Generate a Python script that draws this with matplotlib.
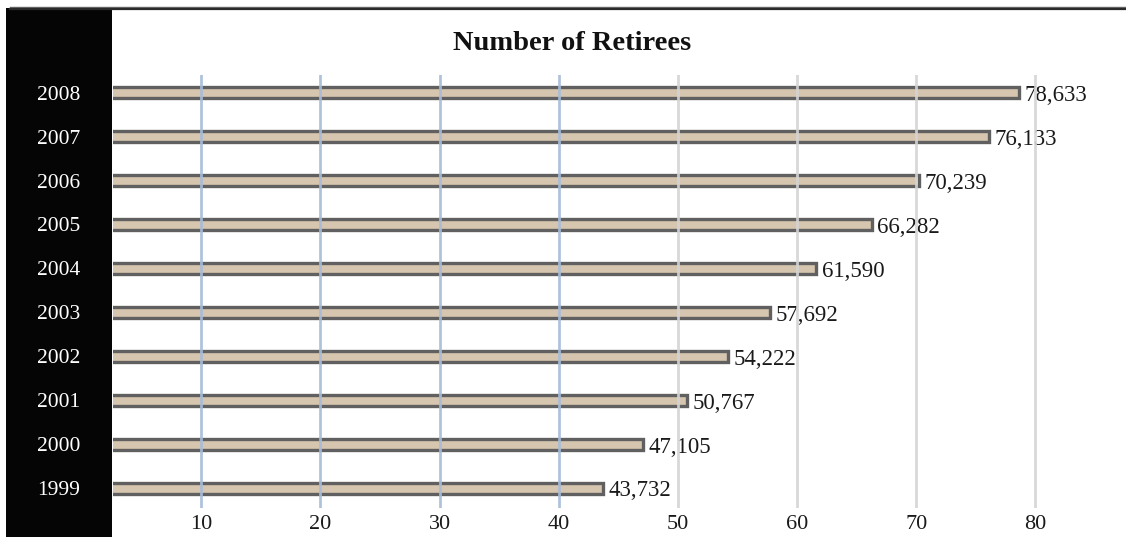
import matplotlib
matplotlib.use("Agg")
import matplotlib.pyplot as plt
from matplotlib.patches import Rectangle
from matplotlib.lines import Line2D

# Retirees per year, in thousands
years = ["1999", "2000", "2001", "2002", "2003", "2004", "2005", "2006", "2007", "2008"]
retirees = [43.732, 47.105, 50.767, 54.222, 57.692, 61.590, 66.282, 70.239, 76.133, 78.633]
value_labels = ["43,732", "47,105", "50,767", "54,222", "57,692",
                "61,590", "66,282", "70,239", "76,133", "78,633"]
x_ticks = [10, 20, 30, 40, 50, 60, 70, 80]

W, H = 1126, 537
fig = plt.figure(figsize=(W / 100, H / 100), dpi=100)
fig.patch.set_facecolor("white")

# black side panel behind the year labels
fig.add_artist(Rectangle((6 / W, 0), (112 - 6) / W, (H - 8) / H,
                         transform=fig.transFigure, facecolor="#050505",
                         edgecolor="none", zorder=0))
# double rule along the top
fig.add_artist(Line2D([10 / W, 1], [(H - 6.5) / H] * 2, transform=fig.transFigure,
                      color="#6a6a6a", lw=1.0))
fig.add_artist(Line2D([10 / W, 1], [(H - 9) / H] * 2, transform=fig.transFigure,
                      color="#2a2a2a", lw=1.6))

ax = fig.add_axes([113 / W, (H - 508) / H, (W - 113) / W, (508 - 75) / H])
ax.set_facecolor("none")

pos = list(range(len(years)))
ax.barh(pos, retirees, height=0.25, color="#d6c5af", edgecolor="#606060",
        linewidth=2.4, zorder=2)

for p, v, lab in zip(pos, retirees, value_labels):
    ax.annotate(lab, (v, p), xytext=(4, -2), textcoords="offset points",
                ha="left", va="center", fontsize=16.5, family="Liberation Serif",
                color="#1a1a1a")

for t in x_ticks:
    col = "#a7bcd9" if t <= 40 else "#d4d4d4"
    ax.axvline(t, color=col, lw=2.0, alpha=0.9, zorder=3)

ax.set_xlim(2.6, 87.6)
ax.set_ylim(-0.45, 9.4)
ax.set_xticks(x_ticks)
ax.set_xticklabels([str(t) for t in x_ticks], family="Liberation Serif",
                   fontsize=16, color="#1a1a1a")
ax.set_yticks(pos)
ax.set_yticklabels(years, family="Liberation Serif", fontsize=15.5, color="white")
for lab in ax.get_yticklabels():
    lab.set_ha("center")
ax.tick_params(axis="x", length=0, pad=5)
ax.tick_params(axis="y", length=0, pad=39)
for s in ax.spines.values():
    s.set_visible(False)

fig.text(572 / W, (H - 43) / H, "Number of Retirees", ha="center", va="center",
         fontsize=20.5, fontweight="bold", family="Liberation Serif", color="#111111")

fig.savefig("out.png", dpi=100)
